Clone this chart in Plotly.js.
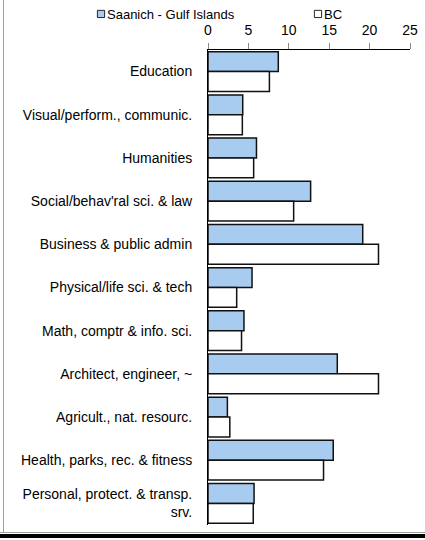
<!DOCTYPE html>
<html>
<head>
<meta charset="utf-8">
<script src="https://cdn.plot.ly/plotly-3.0.1.min.js"></script>
<style>
html,body{margin:0;padding:0;background:#fff;}
#wrap{position:relative;width:425px;height:540px;overflow:hidden;}
#chart{position:absolute;left:0;top:0;width:425px;height:540px;}
#lft{position:absolute;left:3px;top:0;width:1px;height:533px;background:#a0a0a0;}
#bot1{position:absolute;left:0;top:532px;width:425px;height:1px;background:#a0a0a0;}
#bot2{position:absolute;left:0;top:534px;width:425px;height:4px;background:#000;}
</style>
</head>
<body>
<div id="wrap">
<div id="chart"></div>
<div id="lft"></div>
<div id="bot1"></div>
<div id="bot2"></div>
</div>
<script>
const categories = [
  "Education",
  "Visual/perform., communic.",
  "Humanities",
  "Social/behav'ral sci. & law",
  "Business & public admin",
  "Physical/life sci. & tech",
  "Math, comptr & info. sci.",
  "Architect, engineer, ~",
  "Agricult., nat. resourc.",
  "Health, parks, rec. & fitness",
  "Personal, protect. & transp.<br>srv."
];
const saanichValues = [8.7, 4.3, 6.0, 12.7, 19.15, 5.45, 4.45, 16.0, 2.4, 15.5, 5.7];
const bcValues = [7.6, 4.25, 5.65, 10.6, 21.1, 3.55, 4.15, 21.1, 2.7, 14.3, 5.6];
const xTicks = [0, 5, 10, 15, 20, 25];
const seriesNames = ["Saanich - Gulf Islands", "BC"];

const traces = [
  {type:'bar', orientation:'h', name:seriesNames[0], y:categories, x:saanichValues,
   marker:{color:'#A8CBF0', line:{color:'#111', width:1.5}}, legend:'legend'},
  {type:'bar', orientation:'h', name:seriesNames[1], y:categories, x:bcValues,
   marker:{color:'#FFFFFF', line:{color:'#111', width:1.5}}, legend:'legend2'}
];

const legStyle = {orientation:'h', xanchor:'left', yanchor:'middle',
  xref:'container', yref:'container', y:1 - 14/540,
  font:{size:13}, bgcolor:'rgba(0,0,0,0)', borderwidth:0};

const layout = {
  width:425, height:540,
  margin:{l:208, r:15, t:50, b:15, autoexpand:false},
  paper_bgcolor:'#fff', plot_bgcolor:'#fff',
  font:{family:'Liberation Sans, Arial, sans-serif', color:'#000', size:14},
  barmode:'group', bargap:0.08, bargroupgap:0,
  showlegend:true,
  legend:Object.assign({}, legStyle, {x:67/425}),
  legend2:Object.assign({}, legStyle, {x:284/425}),
  xaxis:{side:'top', range:[0,25], tickvals:xTicks, ticktext:xTicks.map(String),
         showgrid:false, zeroline:false, showline:true, linecolor:'#000', linewidth:1,
         ticks:'outside', ticklen:6, tickcolor:'#888', tickwidth:1, ticklabelstandoff:2,
         tickfont:{size:14}, fixedrange:true, automargin:false},
  yaxis:{autorange:'reversed', showgrid:false, zeroline:false, showline:true,
         linecolor:'#000', linewidth:1, ticks:'', ticklabelstandoff:12,
         tickfont:{size:14}, fixedrange:true, automargin:false}
};

Plotly.newPlot('chart', traces, layout, {displayModeBar:false, staticPlot:true}).then(function(gd){
  gd.querySelectorAll('.legendpoints path').forEach(function(p){
    p.setAttribute('transform', 'translate(34,0) scale(0.6)');
  });
});
</script>
</body>
</html>
